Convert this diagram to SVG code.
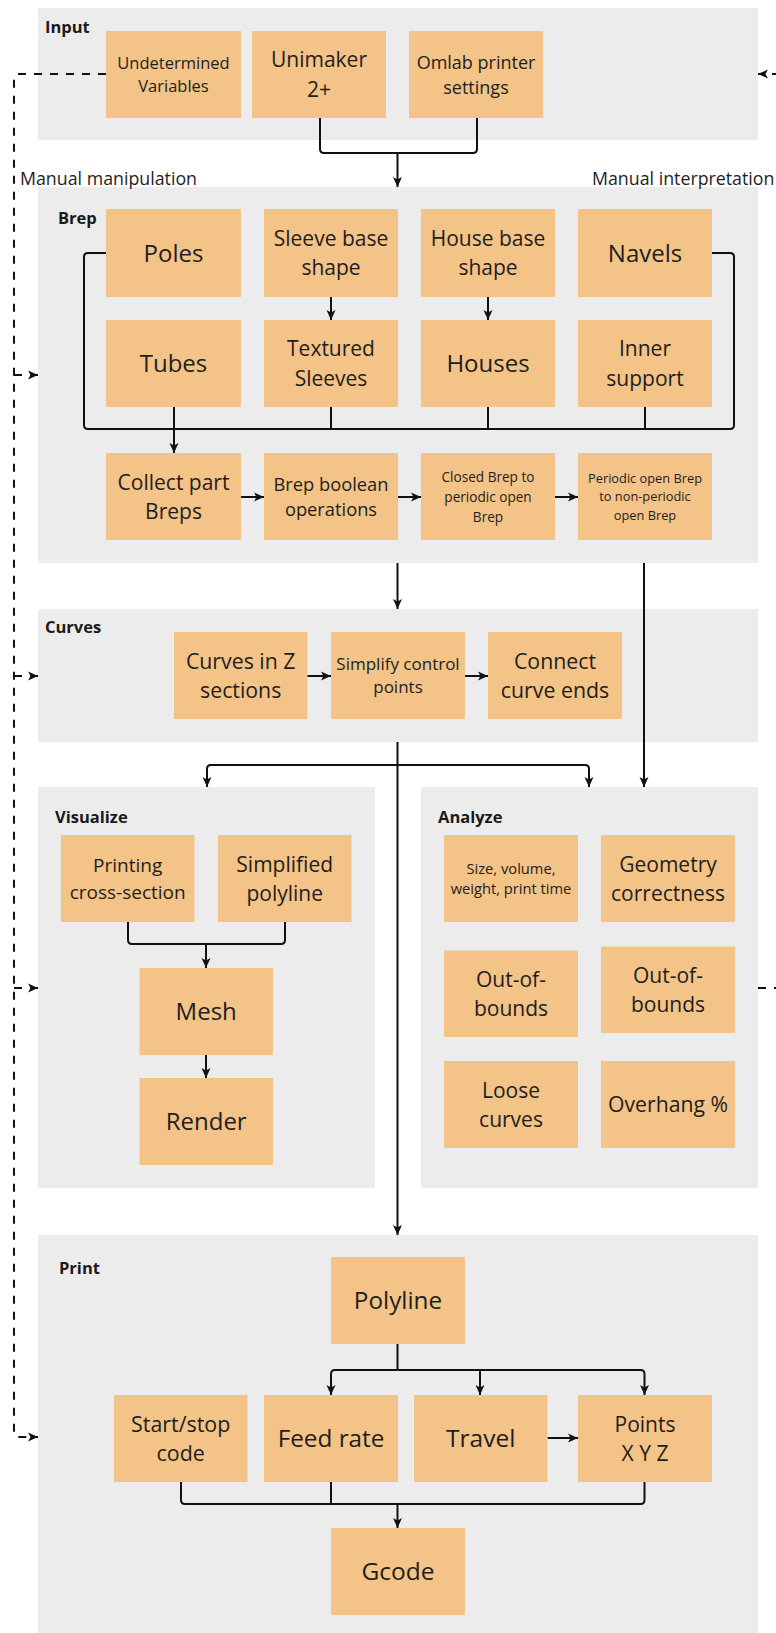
<svg xmlns="http://www.w3.org/2000/svg" width="776" height="1633" viewBox="0 0 776 1633">
  <style>
    .panel { fill: #ececec; }
    .box { fill: #f3c387; }
    .t { font-family: "Open Sans", "Liberation Sans", sans-serif; fill: #1e1e1e; text-anchor: middle; }
    .lbl { font-family: "Open Sans", "Liberation Sans", sans-serif; font-weight: 700; font-size: 16.5px; fill: #1a1a1a; }
    .note { font-family: "Open Sans", "Liberation Sans", sans-serif; font-size: 17.8px; fill: #1e1e1e; }
    .ln { fill: none; stroke: #111; stroke-width: 2; }
    .dash { fill: none; stroke: #111; stroke-width: 2; stroke-dasharray: 8 8; }
  </style>
  <defs>
    <marker id="ah" viewBox="0 0 10 10" refX="10" refY="5" markerWidth="10" markerHeight="10" markerUnits="userSpaceOnUse" orient="auto">
      <path d="M0,0.5 L10,5 L0,9.5 L2.5,5 z" fill="#111"/>
    </marker>
  </defs>

  <!-- stage panels -->
  <g id="panels">
    <rect class="panel" x="38" y="8" width="720" height="132"/>
    <rect class="panel" x="38" y="187" width="720" height="376"/>
    <rect class="panel" x="38" y="609" width="720" height="133"/>
    <rect class="panel" x="38" y="787" width="337" height="401"/>
    <rect class="panel" x="421" y="787" width="337" height="401"/>
    <rect class="panel" x="38" y="1235" width="720" height="400"/>
    <text class="lbl" x="45" y="33">Input</text>
    <text class="lbl" x="58" y="224">Brep</text>
    <text class="lbl" x="45" y="633">Curves</text>
    <text class="lbl" x="55" y="823">Visualize</text>
    <text class="lbl" x="438" y="823">Analyze</text>
    <text class="lbl" x="59" y="1274">Print</text>
  </g>

  <!-- connectors -->
  <g id="connectors">
    <!-- input merge -->
    <path class="ln" d="M320,118 V149 Q320,153 324,153 H473 Q477,153 477,149 V118"/>
    <path class="ln" d="M397.5,153 V187" marker-end="url(#ah)"/>
    <!-- brep collector -->
    <path class="ln" d="M106,253 H88 Q84,253 84,257 V425 Q84,429 88,429 H730 Q734,429 734,425 V257 Q734,253 730,253 H712"/>
    <path class="ln" d="M174,407 V429"/>
    <path class="ln" d="M331,407 V429"/>
    <path class="ln" d="M488,407 V429"/>
    <path class="ln" d="M645,407 V429"/>
    <path class="ln" d="M174,429 V453" marker-end="url(#ah)"/>
    <path class="ln" d="M331,297 V320" marker-end="url(#ah)"/>
    <path class="ln" d="M488,297 V320" marker-end="url(#ah)"/>
    <path class="ln" d="M241,497 H264" marker-end="url(#ah)"/>
    <path class="ln" d="M398,497 H421" marker-end="url(#ah)"/>
    <path class="ln" d="M555,497 H578" marker-end="url(#ah)"/>
    <!-- brep to curves / analyze -->
    <path class="ln" d="M397.5,563 V609" marker-end="url(#ah)"/>
    <path class="ln" d="M644,563 V787" marker-end="url(#ah)"/>
    <!-- curves row -->
    <path class="ln" d="M307,676 H331" marker-end="url(#ah)"/>
    <path class="ln" d="M465,676 H488" marker-end="url(#ah)"/>
    <!-- curves to visualize / analyze / print -->
    <path class="ln" d="M397.5,742 V1235" marker-end="url(#ah)"/>
    <path class="ln" d="M397.5,765 H211 Q207,765 207,769 V787" marker-end="url(#ah)"/>
    <path class="ln" d="M397.5,765 H585 Q589,765 589,769 V787" marker-end="url(#ah)"/>
    <!-- visualize -->
    <path class="ln" d="M128,922 V940 Q128,944 132,944 H281 Q285,944 285,940 V922"/>
    <path class="ln" d="M206,944 V968" marker-end="url(#ah)"/>
    <path class="ln" d="M206,1055 V1078" marker-end="url(#ah)"/>
    <!-- print branch -->
    <path class="ln" d="M397.5,1344 V1370"/>
    <path class="ln" d="M397.5,1370 H335 Q331,1370 331,1374 V1395" marker-end="url(#ah)"/>
    <path class="ln" d="M397.5,1370 H640.5 Q644.5,1370 644.5,1374 V1395" marker-end="url(#ah)"/>
    <path class="ln" d="M480,1370 V1395" marker-end="url(#ah)"/>
    <path class="ln" d="M547.5,1438 H578" marker-end="url(#ah)"/>
    <!-- print merge -->
    <path class="ln" d="M181,1482 V1500 Q181,1504 185,1504 H640.5 Q644.5,1504 644.5,1500 V1482"/>
    <path class="ln" d="M331,1482 V1504"/>
    <path class="ln" d="M397.5,1504 V1528" marker-end="url(#ah)"/>
    <!-- manual manipulation feedback -->
    <path class="dash" d="M106,74 H18 Q14,74 14,78 V1433 Q14,1437 18,1437 H38" marker-end="url(#ah)"/>
    <path class="dash" d="M14,375 H38" marker-end="url(#ah)"/>
    <path class="dash" d="M14,676 H38" marker-end="url(#ah)"/>
    <path class="dash" d="M14,988 H38" marker-end="url(#ah)"/>
    <!-- manual interpretation feedback -->
    <path class="dash" d="M758,988 H792 V74 H758" marker-end="url(#ah)"/>
    <text class="note" x="20" y="185">Manual manipulation</text>
    <text class="note" x="592" y="185">Manual interpretation</text>
  </g>

  <!-- Input -->
  <g id="undetermined-variables">
    <rect class="box" x="106" y="31" width="135" height="87"/>
    <text class="t" font-size="16.5" x="173.5" y="68.8">Undetermined</text>
    <text class="t" font-size="16.5" x="173.5" y="92.1">Variables</text>
  </g>
  <g id="unimaker">
    <rect class="box" x="252" y="31" width="134" height="87"/>
    <text class="t" font-size="21" x="319" y="67.1">Unimaker</text>
    <text class="t" font-size="21" x="319" y="97.1">2+</text>
  </g>
  <g id="omlab-settings">
    <rect class="box" x="409" y="31" width="134" height="87"/>
    <text class="t" font-size="18" x="476" y="68.5">Omlab printer</text>
    <text class="t" font-size="18" x="476" y="93.5">settings</text>
  </g>

  <!-- Brep -->
  <g id="poles">
    <rect class="box" x="106" y="209" width="135" height="88"/>
    <text class="t" font-size="24" x="173.5" y="261.6">Poles</text>
  </g>
  <g id="sleeve-base-shape">
    <rect class="box" x="264" y="209" width="134" height="88"/>
    <text class="t" font-size="21" x="331" y="245.8">Sleeve base</text>
    <text class="t" font-size="21" x="331" y="275.3">shape</text>
  </g>
  <g id="house-base-shape">
    <rect class="box" x="421" y="209" width="134" height="88"/>
    <text class="t" font-size="21" x="488" y="245.8">House base</text>
    <text class="t" font-size="21" x="488" y="275.3">shape</text>
  </g>
  <g id="navels">
    <rect class="box" x="578" y="209" width="134" height="88"/>
    <text class="t" font-size="24" x="645" y="261.6">Navels</text>
  </g>
  <g id="tubes">
    <rect class="box" x="106" y="320" width="135" height="87"/>
    <text class="t" font-size="24" x="173.5" y="372">Tubes</text>
  </g>
  <g id="textured-sleeves">
    <rect class="box" x="264" y="320" width="134" height="87"/>
    <text class="t" font-size="21" x="331" y="356.4">Textured</text>
    <text class="t" font-size="21" x="331" y="385.9">Sleeves</text>
  </g>
  <g id="houses">
    <rect class="box" x="421" y="320" width="134" height="87"/>
    <text class="t" font-size="24" x="488" y="372">Houses</text>
  </g>
  <g id="inner-support">
    <rect class="box" x="578" y="320" width="134" height="87"/>
    <text class="t" font-size="21" x="645" y="356.4">Inner</text>
    <text class="t" font-size="21" x="645" y="385.9">support</text>
  </g>
  <g id="collect-part-breps">
    <rect class="box" x="106" y="453" width="135" height="87"/>
    <text class="t" font-size="21" x="173.5" y="489.5">Collect part</text>
    <text class="t" font-size="21" x="173.5" y="519">Breps</text>
  </g>
  <g id="brep-boolean">
    <rect class="box" x="264" y="453" width="134" height="87"/>
    <text class="t" font-size="18.3" x="331" y="490.8">Brep boolean</text>
    <text class="t" font-size="18.3" x="331" y="515.8">operations</text>
  </g>
  <g id="closed-to-periodic">
    <rect class="box" x="421" y="453" width="134" height="87"/>
    <text class="t" font-size="13.6" x="488" y="481.6">Closed Brep to</text>
    <text class="t" font-size="13.6" x="488" y="501.6">periodic open</text>
    <text class="t" font-size="13.6" x="488" y="521.6">Brep</text>
  </g>
  <g id="periodic-to-nonperiodic">
    <rect class="box" x="578" y="453" width="134" height="87"/>
    <text class="t" font-size="12.8" x="645" y="483">Periodic open Brep</text>
    <text class="t" font-size="12.8" x="645" y="501.3">to non-periodic</text>
    <text class="t" font-size="12.8" x="645" y="519.6">open Brep</text>
  </g>

  <!-- Curves -->
  <g id="curves-in-z">
    <rect class="box" x="174" y="632" width="133.5" height="87"/>
    <text class="t" font-size="21.3" x="240.7" y="668.7">Curves in Z</text>
    <text class="t" font-size="21.3" x="240.7" y="697.7">sections</text>
  </g>
  <g id="simplify-control-points">
    <rect class="box" x="331" y="632" width="134" height="87"/>
    <text class="t" font-size="17" x="398" y="670">Simplify control</text>
    <text class="t" font-size="17" x="398" y="693.3">points</text>
  </g>
  <g id="connect-curve-ends">
    <rect class="box" x="488" y="632" width="134" height="87"/>
    <text class="t" font-size="21.3" x="555" y="668.7">Connect</text>
    <text class="t" font-size="21.3" x="555" y="697.7">curve ends</text>
  </g>

  <!-- Visualize -->
  <g id="printing-cross-section">
    <rect class="box" x="61" y="835" width="133.5" height="87"/>
    <text class="t" font-size="19" x="127.7" y="872">Printing</text>
    <text class="t" font-size="19" x="127.7" y="898.6">cross-section</text>
  </g>
  <g id="simplified-polyline">
    <rect class="box" x="218" y="835" width="133.5" height="87"/>
    <text class="t" font-size="21" x="284.7" y="871.6">Simplified</text>
    <text class="t" font-size="21" x="284.7" y="900.6">polyline</text>
  </g>
  <g id="mesh">
    <rect class="box" x="139.5" y="968" width="133.5" height="87"/>
    <text class="t" font-size="24" x="206.2" y="1020">Mesh</text>
  </g>
  <g id="render">
    <rect class="box" x="139.5" y="1078" width="133.5" height="87"/>
    <text class="t" font-size="24" x="206.2" y="1130">Render</text>
  </g>

  <!-- Analyze -->
  <g id="size-volume">
    <rect class="box" x="444" y="835" width="134" height="87"/>
    <text class="t" font-size="14.7" x="511" y="873.8">Size, volume,</text>
    <text class="t" font-size="14.7" x="511" y="893.8">weight, print time</text>
  </g>
  <g id="geometry-correctness">
    <rect class="box" x="601" y="835" width="134" height="87"/>
    <text class="t" font-size="21" x="668" y="871.6">Geometry</text>
    <text class="t" font-size="21" x="668" y="900.6">correctness</text>
  </g>
  <g id="out-of-bounds-a">
    <rect class="box" x="444" y="950.5" width="134" height="86.5"/>
    <text class="t" font-size="21" x="511" y="987">Out-of-</text>
    <text class="t" font-size="21" x="511" y="1016">bounds</text>
  </g>
  <g id="out-of-bounds-b">
    <rect class="box" x="601" y="946.5" width="134" height="86.5"/>
    <text class="t" font-size="21" x="668" y="983">Out-of-</text>
    <text class="t" font-size="21" x="668" y="1012">bounds</text>
  </g>
  <g id="loose-curves">
    <rect class="box" x="444" y="1061" width="134" height="87"/>
    <text class="t" font-size="21" x="511" y="1097.6">Loose</text>
    <text class="t" font-size="21" x="511" y="1126.6">curves</text>
  </g>
  <g id="overhang">
    <rect class="box" x="601" y="1061" width="134" height="87"/>
    <text class="t" font-size="21.2" x="668" y="1112">Overhang %</text>
  </g>

  <!-- Print -->
  <g id="polyline">
    <rect class="box" x="331" y="1257" width="134" height="87"/>
    <text class="t" font-size="24.3" x="398" y="1309.3">Polyline</text>
  </g>
  <g id="start-stop-code">
    <rect class="box" x="114" y="1395" width="133.5" height="87"/>
    <text class="t" font-size="21.4" x="180.7" y="1431.6">Start/stop</text>
    <text class="t" font-size="21.4" x="180.7" y="1460.6">code</text>
  </g>
  <g id="feed-rate">
    <rect class="box" x="264" y="1395" width="134" height="87"/>
    <text class="t" font-size="24.3" x="331" y="1447">Feed rate</text>
  </g>
  <g id="travel">
    <rect class="box" x="414" y="1395" width="133.5" height="87"/>
    <text class="t" font-size="24.5" x="480.7" y="1447">Travel</text>
  </g>
  <g id="points-xyz">
    <rect class="box" x="578" y="1395" width="134" height="87"/>
    <text class="t" font-size="21" x="645" y="1431.5">Points</text>
    <text class="t" font-size="21" x="645" y="1460.5">X Y Z</text>
  </g>
  <g id="gcode">
    <rect class="box" x="331" y="1528" width="134" height="87"/>
    <text class="t" font-size="24.5" x="398" y="1580.3">Gcode</text>
  </g>
</svg>
